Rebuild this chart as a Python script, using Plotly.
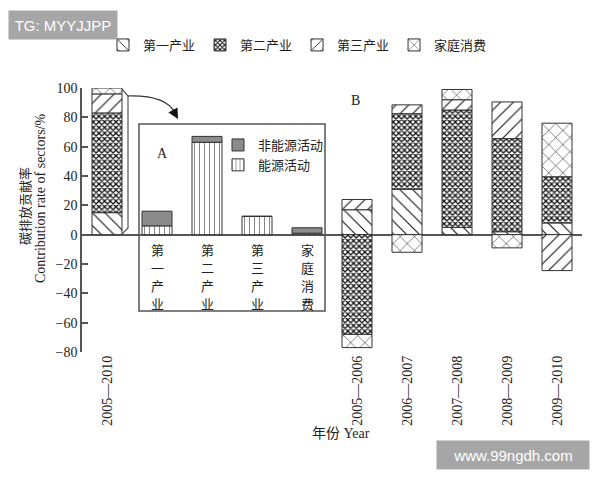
import plotly.graph_objects as go

# ---------------- data ----------------
periods = ["2005—2010", "2005—2006", "2006—2007", "2007—2008", "2008—2009", "2009—2010"]
sector_names = ["第一产业", "第二产业", "第三产业", "家庭消费"]
primary = [15, 17, 31, 5, 2, 8]
secondary = [68, -68, 51.5, 80, 63.5, 31.5]
tertiary = [13, 7, 6, 7, 25, -24.5]
household = [4, -9, -12, 7, -9, 36.5]

inset_cats = ["第一产业 ", "第二产业 ", "第三产业 ", "家庭消费 "]
inset_labels = ["第一产业", "第二产业", "第三产业", "家庭消费"]
energy = [6, 63, 12.5, 1]
non_energy = [10, 4, 0, 3.7]
activity_names = ["能源活动", "非能源活动"]

y_ticks = [-80, -60, -40, -20, 0, 20, 40, 60, 80, 100]

# ---------------- layout helpers ----------------
W, H = 600, 480
OFF = 8                     # page offset of the figure in the browser
PL, PT, PW, PH = 82, 88, 500, 264   # plot area in page pixels
L, T = PL - OFF, PT - OFF
R, B = W - L - PW, H - T - PH


def px(xp):
    return (xp - PL) / PW


def py(yp):
    return (PT + PH - yp) / PH


FONT = "Liberation Serif, Noto Sans CJK SC, serif"
CJK = "Noto Sans CJK SC, Liberation Serif, serif"
INK = "#222222"
EDGE = "#333333"

cat_order = [periods[0]] + inset_cats + periods[1:]

patterns = [
    dict(shape="\\", size=9, solidity=0.12),
    dict(shape="x", size=4, solidity=0.55),
    dict(shape="/", size=9, solidity=0.12),
    dict(shape="x", size=10, solidity=0.1),
]
series = [primary, secondary, tertiary, household]

fig = go.Figure()
for name, vals, pat in zip(sector_names, series, patterns):
    fig.add_trace(go.Bar(
        x=periods, y=vals, name=name, width=0.6,
        marker=dict(color="white", line=dict(color=EDGE, width=1),
                    pattern=dict(fgcolor="#111111", bgcolor="white", fillmode="replace", **pat)),
        legend="legend",
    ))

fig.add_trace(go.Bar(
    x=inset_cats, y=energy, name=activity_names[0], width=0.6,
    marker=dict(color="white", line=dict(color=EDGE, width=1),
                pattern=dict(shape="|", size=5, solidity=0.2, fgcolor="#111111", bgcolor="white")),
    legend="legend2", legendrank=2,
))
fig.add_trace(go.Bar(
    x=inset_cats, y=non_energy, name=activity_names[1], width=0.6,
    marker=dict(color="#8c8c8c", line=dict(color=EDGE, width=1)),
    legend="legend2", legendrank=1,
))

shapes = [
    # inset frame
    dict(type="rect", xref="paper", yref="paper", x0=px(139), x1=px(325), y0=py(311), y1=py(124),
         line=dict(color="#555555", width=1.5), layer="below"),
    # bracket next to the total bar
    dict(type="path", xref="paper", yref="paper",
         path=f"M {px(122)},{py(89)} L {px(128)},{py(96)} L {px(128)},{py(228)} L {px(122)},{py(234)}",
         line=dict(color="#555555", width=1.2)),
    # curved arrow
    dict(type="path", xref="paper", yref="paper",
         path=f"M {px(128)},{py(96)} Q {px(166)},{py(95)} {px(175)},{py(113)}",
         line=dict(color="#333333", width=1.2)),
]


def note(xp, yp, text, font, **kw):
    d = dict(x=px(xp), y=py(yp), xref="paper", yref="paper", text=text, showarrow=False,
             xanchor="center", yanchor="middle", font=font)
    d.update(kw)
    return d


annotations = [
    dict(x=px(178), y=py(119), xref="paper", yref="paper", text="", showarrow=True,
         ax=-5, ay=-9, arrowhead=2, arrowsize=1.6, arrowwidth=1.3, arrowcolor="#111111"),
    note(162, 153, "A", dict(family=FONT, size=14, color=INK)),
    note(355, 101, "B", dict(family=FONT, size=14, color=INK)),
    note(24, 206, "碳排放贡献率", dict(family=CJK, size=13, color=INK), textangle=-90),
    note(40, 199, "Contribution rate of sectors/%", dict(family=FONT, size=14, color=INK), textangle=-90),
    note(341, 433, "年份 Year", dict(family=FONT, size=14, color=INK)),
    # watermarks
    note(63, 25, "TG: MYYJJPP", dict(family="Liberation Sans, Arial, sans-serif", size=15, color="white"),
         bgcolor="#a6a6a6", width=106, height=26),
    note(513, 455, "www.99ngdh.com", dict(family="Liberation Sans, Arial, sans-serif", size=15, color="white"),
         bgcolor="#a6a6a6", width=150, height=26),
]
char_rows = [249, 267, 285, 303]
for cat, lab in zip(inset_cats, inset_labels):
    for ch, yrow in zip(lab, char_rows):
        annotations.append(dict(x=cat, y=py(yrow), xref="x", yref="paper", text=ch, showarrow=False,
                                xanchor="center", yanchor="middle",
                                font=dict(family=CJK, size=13, color=INK)))

fig.update_layout(
    width=W, height=H,
    margin=dict(l=L, r=R, t=T, b=B, autoexpand=False),
    paper_bgcolor="white", plot_bgcolor="white",
    barmode="relative", bargap=0.4,
    font=dict(family=FONT, size=13, color=INK),
    shapes=shapes, annotations=annotations,
    legend=dict(orientation="h", xref="container", yref="container",
                x=(103 - OFF) / W, y=1 - (45 - OFF) / H, xanchor="left", yanchor="middle",
                font=dict(family=CJK, size=13, color=INK), bgcolor="rgba(0,0,0,0)"),
    legend2=dict(orientation="v", xref="container", yref="container",
                 x=(218 - OFF) / W, y=1 - (130 - OFF) / H, xanchor="left", yanchor="top",
                 font=dict(family=CJK, size=13, color=INK), bgcolor="rgba(0,0,0,0)",
                 tracegroupgap=0),
    xaxis=dict(type="category", categoryorder="array", categoryarray=cat_order,
               range=[-0.5, len(cat_order) - 0.5], tickvals=periods, ticktext=periods,
               tickangle=-90, showline=False, showgrid=False, zeroline=False, ticks="",
               automargin=False, tickfont=dict(family=FONT, size=14, color=INK)),
    yaxis=dict(range=[-80, 100], tickvals=y_ticks, showgrid=False, automargin=False,
               showline=True, linecolor="#555555", linewidth=1.5,
               ticks="inside", ticklen=6, tickcolor="#555555", tickwidth=1.5,
               zeroline=True, zerolinecolor="#555555", zerolinewidth=1.5,
               tickfont=dict(family=FONT, size=14, color=INK)),
)

fig.write_html("out.html")
